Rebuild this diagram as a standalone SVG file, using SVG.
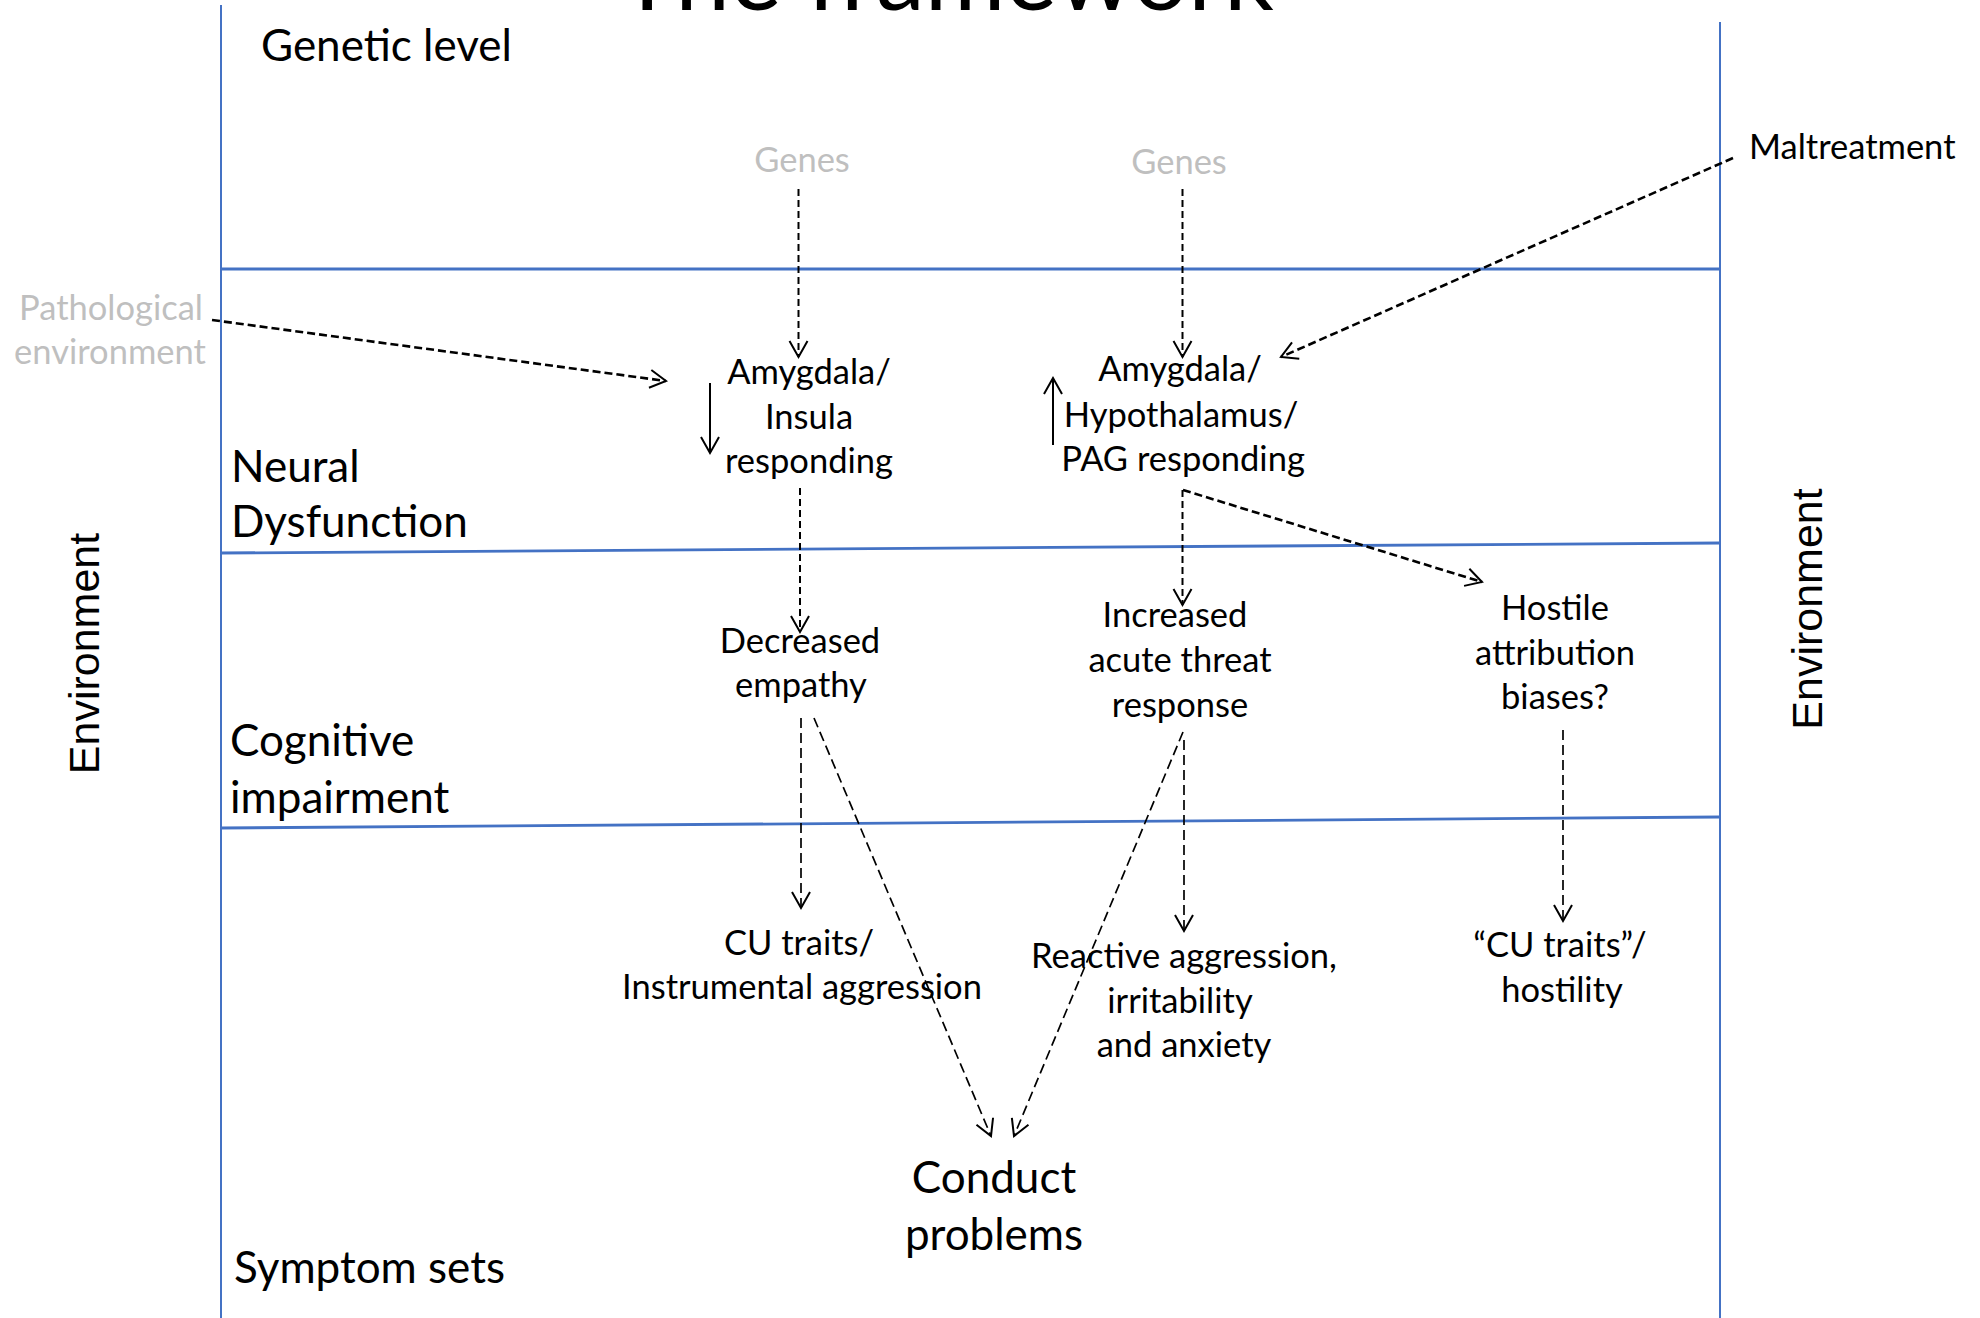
<svg xmlns="http://www.w3.org/2000/svg" width="1980" height="1318" viewBox="0 0 1980 1318">
  <defs>
    <style>
      .lbl { font-family: Lato, "Liberation Sans", sans-serif; font-size: 34.5px; fill: #000; text-anchor: middle; }
      .lvl { font-family: Lato, "Liberation Sans", sans-serif; font-size: 44px; fill: #000; }
      .gray { fill: #BFBFBF; }
      .env { font-family: "Liberation Sans", Arial, sans-serif; font-size: 43px; fill: #000; text-anchor: middle; }
      .frame { stroke: #4472C4; fill: none; }
      .dash { stroke: #000; fill: none; stroke-width: 2; stroke-dasharray: 7 4; }
      .dashb { stroke: #000; fill: none; stroke-width: 2.6; stroke-dasharray: 8 4; }
      .dashl { stroke: #000; fill: none; stroke-width: 1.7; stroke-dasharray: 10 5; }
      .solid { stroke: #000; fill: none; stroke-width: 2; }
    </style>
    <marker id="arr" markerUnits="userSpaceOnUse" viewBox="-20 -12 24 24" markerWidth="24" markerHeight="24" refX="0" refY="0" orient="auto">
      <path d="M-16,-9 L0,0 L-16,9" fill="none" stroke="#000" stroke-width="2" stroke-dasharray="none"/>
    </marker>
  </defs>
  <rect width="1980" height="1318" fill="#fff"/>

  <g id="frame">
    <line class="frame" x1="221" y1="5" x2="221" y2="1318" stroke-width="2"/>
    <line class="frame" x1="1720" y1="22" x2="1720" y2="1318" stroke-width="2"/>
    <line class="frame" x1="221" y1="269" x2="1720" y2="269" stroke-width="2.8"/>
    <line class="frame" x1="221" y1="553" x2="1720" y2="543" stroke-width="2.8"/>
    <line class="frame" x1="221" y1="828" x2="1720" y2="817" stroke-width="2.8"/>
  </g>

  <g id="title">
    <text x="946" y="10" font-family="Lato, 'Liberation Sans', sans-serif" font-size="98" text-anchor="middle">The framework</text>
  </g>

  <g id="levels">
    <text class="lvl" x="261" y="61">Genetic level</text>
    <text class="lvl" x="231" y="482">Neural</text>
    <text class="lvl" x="231" y="537">Dysfunction</text>
    <text class="lvl" x="230" y="756">Cognitive</text>
    <text class="lvl" x="230" y="813">impairment</text>
    <text class="lvl" x="234" y="1283">Symptom sets</text>
  </g>

  <g id="env-left"><text class="env" transform="translate(99,653.5) rotate(-90)">Environment</text></g>
  <g id="env-right"><text class="env" transform="translate(1822,609) rotate(-90)">Environment</text></g>

  <g id="genes1"><text class="lbl gray" x="802" y="172">Genes</text></g>
  <g id="genes2"><text class="lbl gray" x="1179" y="174">Genes</text></g>
  <g id="pathological">
    <text class="lbl gray" x="111" y="320">Pathological</text>
    <text class="lbl gray" x="110" y="364">environment</text>
  </g>
  <g id="maltreatment"><text class="lbl" x="1749" y="159" style="text-anchor:start">Maltreatment</text></g>

  <g id="amygdala-insula">
    <text class="lbl" x="809" y="384">Amygdala/</text>
    <text class="lbl" x="809" y="429">Insula</text>
    <text class="lbl" x="809" y="473">responding</text>
  </g>
  <g id="amygdala-hypothalamus">
    <text class="lbl" x="1180" y="381">Amygdala/</text>
    <text class="lbl" x="1181" y="427">Hypothalamus/</text>
    <text class="lbl" x="1183" y="471">PAG responding</text>
  </g>
  <g id="decreased-empathy">
    <text class="lbl" x="800" y="653">Decreased</text>
    <text class="lbl" x="801" y="697">empathy</text>
  </g>
  <g id="increased-threat">
    <text class="lbl" x="1175" y="627">Increased</text>
    <text class="lbl" x="1180" y="672">acute threat</text>
    <text class="lbl" x="1180" y="717">response</text>
  </g>
  <g id="hostile-attribution">
    <text class="lbl" x="1555" y="620">Hostile</text>
    <text class="lbl" x="1555" y="665">attribution</text>
    <text class="lbl" x="1555" y="709">biases?</text>
  </g>
  <g id="cu-instrumental">
    <text class="lbl" x="799" y="955">CU traits/</text>
    <text class="lbl" x="802" y="999">Instrumental aggression</text>
  </g>
  <g id="reactive">
    <text class="lbl" x="1184" y="968">Reactive aggression,</text>
    <text class="lbl" x="1180" y="1013">irritability</text>
    <text class="lbl" x="1184" y="1057">and anxiety</text>
  </g>
  <g id="cu-hostility">
    <text class="lbl" x="1560" y="957">“CU traits”/</text>
    <text class="lbl" x="1562" y="1002">hostility</text>
  </g>
  <g id="conduct-problems">
    <text class="lvl" x="994" y="1193" text-anchor="middle">Conduct</text>
    <text class="lvl" x="994" y="1250" text-anchor="middle">problems</text>
  </g>

  <g id="connectors">
    <path class="dash" d="M798.5,189 V357" marker-end="url(#arr)"/>
    <path class="dash" d="M1182.5,189 V357" marker-end="url(#arr)"/>
    <path class="dashb" d="M212,320 L666,381" marker-end="url(#arr)"/>
    <path class="dashb" d="M1733,158 L1281,357" marker-end="url(#arr)"/>
    <path class="solid" d="M710,383 V453" marker-end="url(#arr)"/>
    <path class="solid" d="M1053,445 V378" marker-end="url(#arr)"/>
    <path class="dash" d="M800,488 V632" marker-end="url(#arr)"/>
    <path class="dash" d="M1182.5,490 V605" marker-end="url(#arr)"/>
    <path class="dashb" d="M1183,490 L1482,582" marker-end="url(#arr)"/>
    <path class="dashl" d="M801,718 V908" marker-end="url(#arr)"/>
    <path class="dashl" d="M814,718 L991,1136" marker-end="url(#arr)"/>
    <path class="dashl" d="M1183,732 L1014,1136" marker-end="url(#arr)"/>
    <path class="dashl" d="M1184,740 V931" marker-end="url(#arr)"/>
    <path class="dashl" d="M1563,730 V921" marker-end="url(#arr)"/>
  </g>
</svg>
